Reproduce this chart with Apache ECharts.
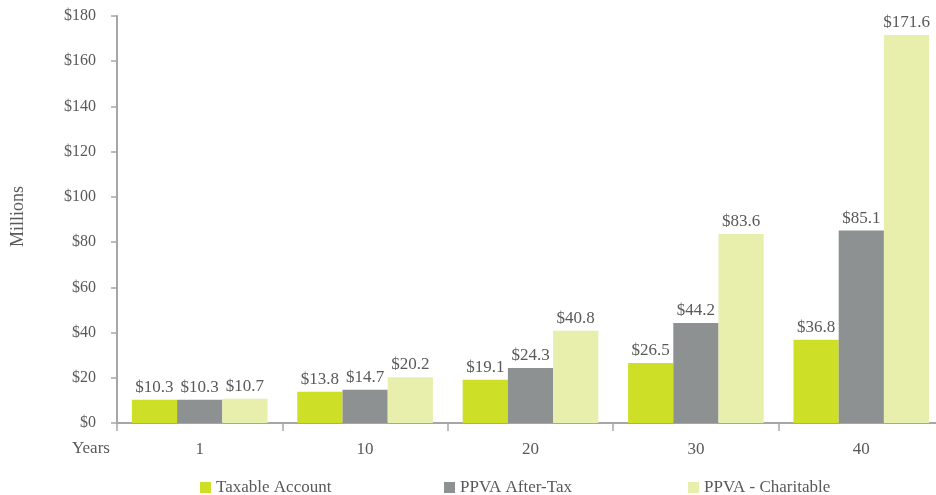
<!DOCTYPE html>
<html>
<head>
<meta charset="utf-8">
<script src="https://cdn.jsdelivr.net/npm/echarts@6/dist/echarts.min.js"></script>
<style>
  html, body { margin: 0; padding: 0; background: #fff; }
  #chart { width: 936px; height: 495px; }
</style>
</head>
<body>
<div id="chart"></div>
<script>
// Data (values in millions)
let years = ["1", "10", "20", "30", "40"];
let taxable_account = [10.3, 13.8, 19.1, 26.5, 36.8];
let ppva_after_tax = [10.3, 14.7, 24.3, 44.2, 85.1];
let ppva_charitable = [10.7, 20.2, 40.8, 83.6, 171.6];
let series_names = ["Taxable Account", "PPVA After-Tax", "PPVA - Charitable"];

let font_family = "Liberation Serif";
let text_color = "#595959";
let axis_color = "#a6a6a6";
let colors = ["#cde027", "#8e9191", "#e8eeac"];

let chart_dom = document.getElementById("chart");
let chart = echarts.init(chart_dom);

let label_cfg = {
    show: true,
    position: "top",
    distance: 4,
    color: text_color,
    fontFamily: font_family,
    fontSize: 17,
    formatter: function (p) { return "$" + p.value.toFixed(1); }
};

function make_series(name, data, color) {
    return {
        name: name,
        type: "bar",
        data: data,
        barGap: "0%",
        barCategoryGap: "18%",
        itemStyle: { color: color },
        label: label_cfg
    };
}

function make_legend(name, left) {
    return {
        data: [name],
        left: left,
        top: 474,
        icon: "rect",
        itemWidth: 11,
        itemHeight: 11,
        itemGap: 6,
        textStyle: { color: text_color, fontFamily: font_family, fontSize: 17 }
    };
}

let option = {
    backgroundColor: "#fff",
    animation: false,
    color: colors,
    // grid runs a little past the right edge, like the original
    grid: { left: 117, width: 827, top: 16, bottom: 72, outerBoundsMode: "none" },
    legend: [
        make_legend(series_names[0], 195),
        make_legend(series_names[1], 439),
        make_legend(series_names[2], 683)
    ],
    graphic: [
        {
            type: "text",
            left: 72,
            top: 440,
            style: { text: "Years", fill: text_color, font: "17px " + font_family }
        },
        {
            type: "text",
            left: 9,
            top: 186,
            rotation: Math.PI / 2,
            style: { text: "Millions", fill: text_color, font: "18px " + font_family }
        }
    ],
    xAxis: {
        type: "category",
        data: years,
        axisLine: { lineStyle: { color: axis_color, width: 2 } },
        axisTick: { show: true, length: 8, lineStyle: { color: axis_color, width: 1.5 } },
        axisLabel: { color: text_color, fontFamily: font_family, fontSize: 17, margin: 18 }
    },
    yAxis: {
        type: "value",
        min: 0,
        max: 180,
        interval: 20,
        splitLine: { show: false },
        axisLine: { show: true, lineStyle: { color: axis_color, width: 2 } },
        axisTick: { show: true, length: 6, lineStyle: { color: axis_color, width: 1.5 } },
        axisLabel: {
            color: text_color,
            fontFamily: font_family,
            fontSize: 16,
            margin: 21,
            formatter: function (v) { return "$" + v; }
        }
    },
    series: [
        make_series(series_names[0], taxable_account, colors[0]),
        make_series(series_names[1], ppva_after_tax, colors[1]),
        make_series(series_names[2], ppva_charitable, colors[2])
    ]
};

chart.setOption(option, true);
</script>
</body>
</html>
